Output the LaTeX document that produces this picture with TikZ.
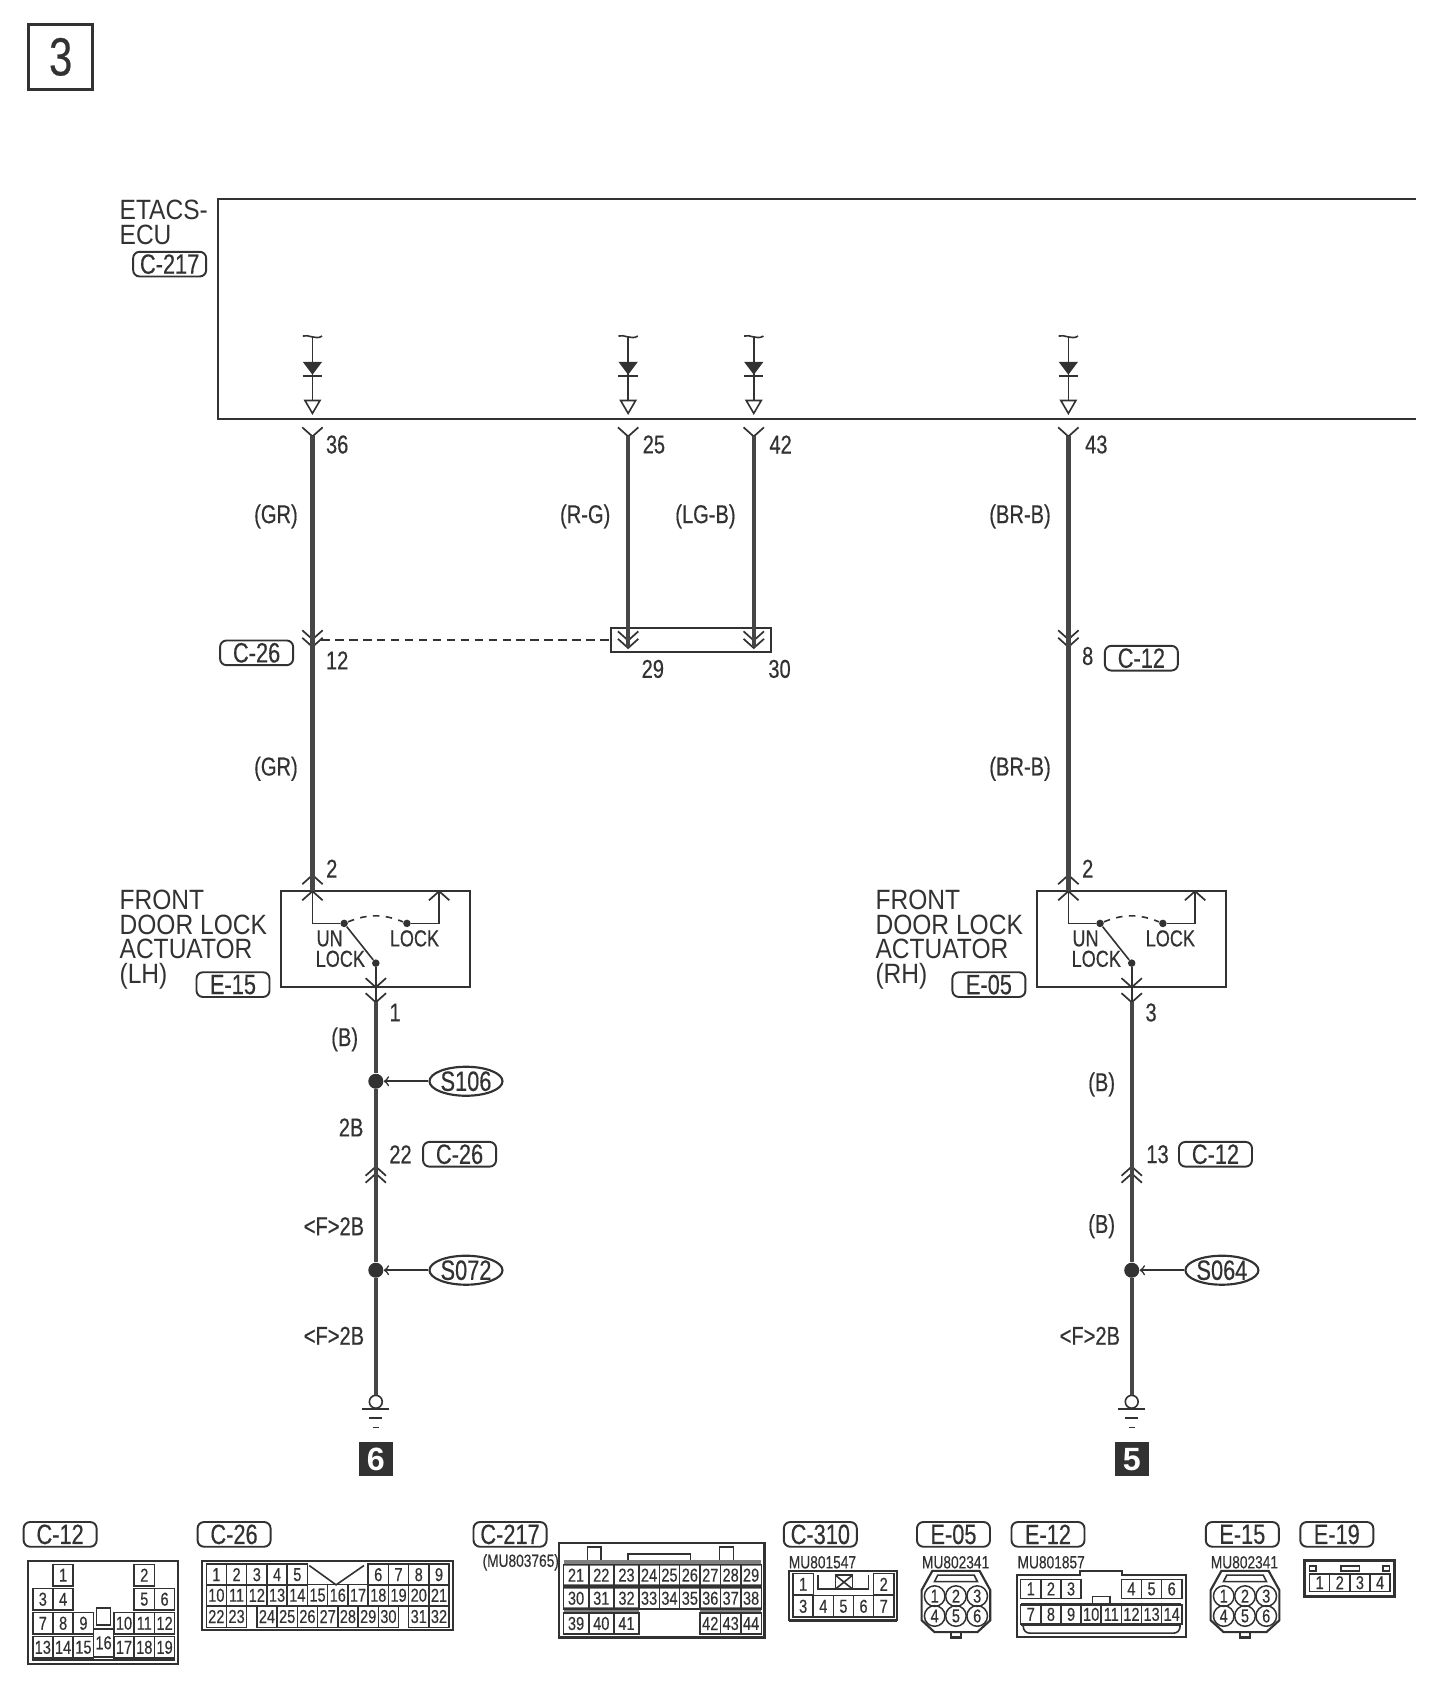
\documentclass[tikz,border=0pt]{standalone}
\usepackage{fontspec}
\setmainfont{Liberation Sans}
\newfontfamily\narrowfont[FakeStretch=0.78, FakeBold=0.4]{Liberation Sans}
\newfontfamily\labelfont[FakeStretch=0.88]{Liberation Sans}
\usetikzlibrary{shapes.geometric, positioning}
\definecolor{inkgray}{RGB}{50,50,50}
\definecolor{wiregray}{RGB}{70,70,70}

\begin{document}
\begin{tikzpicture}[
    x=0.5pt, y=-0.5pt,
    every node/.style={text=inkgray},
    wire/.style={draw=wiregray, line width=2pt},
    thinwire/.style={draw=inkgray, line width=0.75pt},
    chev/.style={draw=inkgray, line width=0.8pt},
    outline/.style={draw=inkgray, line width=1pt},
    tag/.style={rectangle, draw=inkgray, line width=0.9pt, rounded corners=3pt, minimum width=34pt, minimum height=11.5pt, inner sep=0pt, font=\narrowfont\fontsize{13}{13}\selectfont},
    wirelabel/.style={inner sep=0pt, font=\narrowfont\fontsize{12}{12}\selectfont},
    namelabel/.style={inner sep=0pt, anchor=west, align=left, font=\labelfont\fontsize{13}{11.5}\selectfont},
    pinbox/.style={rectangle, draw=inkgray, line width=0.7pt, minimum width=9.4pt, minimum height=10pt, inner sep=0pt, font=\narrowfont\fontsize{8.7}{9}\selectfont},
    pinround/.style={circle, draw=inkgray, line width=0.7pt, minimum size=9.6pt, inner sep=0pt, font=\narrowfont\fontsize{8.7}{9}\selectfont},
    partno/.style={inner sep=0pt, font=\narrowfont\fontsize{8.2}{8}\selectfont},
    splice/.style={circle, fill=inkgray, minimum size=7pt, inner sep=0pt},
    contact/.style={circle, fill=inkgray, minimum size=3.5pt, inner sep=0pt},
    spliceid/.style={ellipse, draw=inkgray, line width=1pt, minimum width=34pt, minimum height=13.5pt, inner sep=0pt, font=\narrowfont\fontsize{13}{13}\selectfont},
    badge/.style={rectangle, fill=inkgray, minimum size=16pt, inner sep=0pt, text=white, font=\bfseries\fontsize{15}{15}\selectfont}
]
    \useasboundingbox (0,0) rectangle (1356,1566.5);

    % Sheet number
    \node[rectangle, outline, line width=1.4pt, minimum size=30pt, inner sep=0pt, font=\narrowfont\fontsize{25}{25}\selectfont] (sheet) at (56.5,53) {3};

    % ECU box, open to the right
    \draw[outline] (1319,185) -- (203,185) -- (203,390) -- (1319,390);
    \node[namelabel] (ecuname) at (111,207) {ETACS-\\ECU};
    \node[tag] (ecutag) at (158,246) {C-217};

    % Output stages inside the ECU
    \foreach \sname/\sx in {p36/291, p25/585, p42/702, p43/995} {
        \coordinate (\sname-top) at (\sx,313);
        \coordinate (\sname-tri) at (\sx,373);
        \coordinate (\sname-y) at (\sx,406);
        \draw[thinwire] (\sname-top) -- (\sname-tri);
        \draw[thinwire] (\sx-9,313) .. controls (\sx-4,311) and (\sx+3,317) .. (\sx+9,313);
        \fill[inkgray] (\sx-9,337) -- (\sx+9,337) -- (\sx,349) -- cycle;
        \draw[thinwire] (\sx-9,350) -- (\sx+9,350);
        \draw[thinwire, fill=white] (\sx-7,373) -- (\sx+7,373) -- (\sx,385) -- cycle;
    }

    % Connector chevrons
    \foreach \cx/\cy in {291/398, 585/398, 702/398, 995/398, 291/587, 291/594, 995/587, 995/594, 585/588, 585/595, 702/588, 702/595, 350/911, 350/925, 1054/911, 1054/925}
        \draw[chev] (\cx-9.5,\cy) -- (\cx,\cy+8.5) -- (\cx+9.5,\cy);
    \foreach \cx/\cy in {291/815, 291/830, 409/830, 995/815, 995/830, 1113/830, 350/1086.5, 350/1093, 1054/1086.5, 1054/1093}
        \draw[chev] (\cx-9.5,\cy+8.5) -- (\cx,\cy) -- (\cx+9.5,\cy+8.5);

    % Door lock actuators
    \foreach \aname/\ax/\anum/\atag/\aside in {lh/0/1/E-15/LH, rh/704/3/E-05/RH} {
        \begin{scope}[shift={(\ax,0)}]
            \node[rectangle, outline, minimum width=88pt, minimum height=44.5pt, inner sep=0pt] (act\aname) at (350,874.5) {};
            \coordinate (up\aname) at (291,830);
            \coordinate (lk\aname) at (409,830);
            \coordinate (dn\aname) at (350,933);
            \node[contact] (cu\aname) at (320.5,860) {};
            \node[contact] (cl\aname) at (379,860) {};
            \node[contact] (cm\aname) at (350,897) {};
            \draw[thinwire] (up\aname) |- (cu\aname);
            \draw[thinwire] (cl\aname) -| (lk\aname);
            \draw[thinwire] (cu\aname) -- (cm\aname);
            \draw[thinwire] (cm\aname) -- (dn\aname);
            \draw[thinwire, dashed] (cu\aname) to[bend left=22] (cl\aname);
            \node[wirelabel, font=\narrowfont\fontsize{10.8}{10.8}\selectfont] (un\aname) at (307,874) {UN};
            \node[wirelabel, font=\narrowfont\fontsize{10.8}{10.8}\selectfont] (ul\aname) at (317,893) {LOCK};
            \node[wirelabel, font=\narrowfont\fontsize{10.8}{10.8}\selectfont] (ll\aname) at (386,874) {LOCK};
            \node[namelabel] (nm\aname) at (111,875) {FRONT\\DOOR LOCK\\ACTUATOR\\(\aside)};
            \node[tag] (tg\aname) at (217,917) {\atag};
            \node[wirelabel] (t2\aname) at (309,809) {2};
            \node[wirelabel] (tn\aname) at (368,943) {\anum};
        \end{scope}
    }

    % Wiring from ECU to actuators
    \node[rectangle, thinwire, line width=1pt, minimum width=74.5pt, minimum height=11pt, inner sep=0pt] (shortbox) at (643.5,596) {};
    \coordinate (end29) at (585,603);
    \coordinate (end30) at (702,603);
    \coordinate (c26mid) at (299,596);
    \draw[wire] (p36-y) -- (uplh);
    \draw[wire] (p25-y) -- (end29);
    \draw[wire] (p42-y) -- (end30);
    \draw[wire] (p43-y) -- (uprh);
    \draw[thinwire, dash pattern=on 4pt off 2.5pt] (c26mid) -- (shortbox.west);

    % Ground runs
    \node[splice] (spl106) at (350,1007) {};
    \node[splice] (spl072) at (350,1183) {};
    \node[splice] (spl064) at (1054,1183) {};
    \node[spliceid] (s106) at (434,1007) {S106};
    \node[spliceid] (s072) at (434,1183) {S072};
    \node[spliceid] (s064) at (1138,1183) {S064};
    \draw[thinwire, ->] (s106) -- (spl106);
    \draw[thinwire, ->] (s072) -- (spl072);
    \draw[thinwire, ->] (s064) -- (spl064);
    \foreach \gname/\gx/\gval in {lh/350/6, rh/1054/5} {
        \node[circle, thinwire, minimum size=6pt, inner sep=0pt] (gnd\gname) at (\gx,1305.5) {};
        \draw[thinwire] (\gx-12.5,1312) -- (\gx+12.5,1312);
        \draw[thinwire] (\gx-6,1320.5) -- (\gx+6,1320.5);
        \draw[thinwire] (\gx-3,1329.5) -- (\gx+3,1329.5);
        \node[badge] (bd\gname) at (\gx,1359) {\gval};
    }
    \draw[wire] (dnlh) -- (spl106) -- (spl072) -- (gndlh);
    \draw[wire] (dnrh) -- (spl064) -- (gndrh);

    % Wire colours and terminal numbers
    \foreach \txt/\lx/\ly [count=\n] in {36/314/414, 25/609/414, 42/727/414, 43/1021/414, {(GR)}/257/481, {(R-G)}/545/481, {(LG-B)}/657/481, {(BR-B)}/950/481, 12/314/615, 29/608/623, 30/726/623, 8/1013/611, {(GR)}/257/716, {(BR-B)}/950/716, {(B)}/321/968, 2B/327/1050, 22/373/1075, {<F>2B}/311/1142, {<F>2B}/311/1244, {(B)}/1026/1010, 13/1078/1075, {(B)}/1026/1142, {<F>2B}/1015/1244}
        \node[wirelabel] (wl\n) at (\lx,\ly) {\txt};
    \node[tag] (c26a) at (239,608) {C-26};
    \node[tag] (c12a) at (1063,613) {C-12};
    \node[tag] (c26b) at (428,1075) {C-26};
    \node[tag] (c12b) at (1132,1075) {C-12};

    % Connector faces: name tags
    \foreach \tagtxt/\tx in {C-12/56, C-26/218, C-217/475, C-310/764, E-05/888, E-12/976, E-15/1157, E-19/1245}
        \node[tag] (face\tagtxt) at (\tx,1429) {\tagtxt};
    \foreach \parttxt/\tx [count=\n] in {(MU803765)/485, MU801547/766, MU802341/890, MU801857/979, MU802341/1159}
        \node[partno] (part\n) at (\tx,1455) {\parttxt};

    % C-12 face
    \draw[outline] (26,1453.5) rectangle (165.5,1550);
    \draw[thinwire] (30,1546) -- (163,1546);
    \foreach \num/\col/\row in {1/1/0, 2/5/0, 3/0/1, 4/1/1, 5/5/1, 6/6/1, 7/0/2, 8/1/2, 9/2/2, 10/4/2, 11/5/2, 12/6/2, 13/0/3, 14/1/3, 15/2/3, 17/4/3, 18/5/3, 19/6/3}
        \node[pinbox] (cxii-\num) at ({39.9+\col*18.9},{1467+\row*22.4}) {\num};
    \node[rectangle, thinwire, minimum width=6.5pt, minimum height=7.8pt, inner sep=0pt] (cxii-key) at (96.5,1505.5) {};
    \node[pinbox, minimum height=13pt] (cxii-16) at (96.5,1530) {16};

    % C-26 face
    \draw[outline] (188.5,1453.5) rectangle (421.5,1518);
    \foreach \num/\col in {1/0, 2/1, 3/2, 4/3, 5/4, 6/8, 7/9, 8/10, 9/11}
        \node[pinbox] (cxxvi-\num) at ({201.5+\col*18.85},1466.5) {\num};
    \foreach \num [count=\col from 0] in {10,...,21}
        \node[pinbox] (cxxvi-\num) at ({201.5+\col*18.85},1485.7) {\num};
    \foreach \num/\col in {22/0, 23/1, 24/2.5, 25/3.5, 26/4.5, 27/5.5, 28/6.5, 29/7.5, 30/8.5, 31/10, 32/11}
        \node[pinbox] (cxxvi-\num) at ({201.5+\col*18.85},1505.5) {\num};
    \draw[thinwire] (288,1458) -- (313,1476) -- (339,1458);

    % C-217 face
    \draw[outline] (520.5,1437) rectangle (712,1525);
    \draw[thinwire] (547,1453) |- (560,1440.5) -- (560,1453);
    \draw[thinwire] (670,1453) |- (683,1440.5) -- (683,1453);
    \draw[thinwire] (585,1453) |- (643,1447.5) -- (643,1453);
    \fill[gray] (525,1453) rectangle (709,1458.5);
    \fill[gray] (525,1475.5) rectangle (709,1480);
    \fill[gray] (525,1497) rectangle (595,1502.5);
    \fill[gray] (652,1497) rectangle (709,1502.5);
    \foreach \num/\cx/\cy/\cw in {21/536.5/1467/11.6, 22/560/1467/11.6, 23/583.5/1467/11.6, 24/604.5/1467/9.5, 25/623.5/1467/9.5, 26/642.5/1467/9.5, 27/661.5/1467/9.5, 28/680.5/1467/9.5, 29/699.5/1467/9.5,
        30/536.5/1488.5/11.6, 31/560/1488.5/11.6, 32/583.5/1488.5/11.6, 33/604.5/1488.5/9.5, 34/623.5/1488.5/9.5, 35/642.5/1488.5/9.5, 36/661.5/1488.5/9.5, 37/680.5/1488.5/9.5, 38/699.5/1488.5/9.5,
        39/536.5/1512/11.6, 40/560/1512/11.6, 41/583.5/1512/11.6, 42/661.5/1512/9.5, 43/680.5/1512/9.5, 44/699.5/1512/9.5}
        \node[pinbox, minimum width=\cw pt] (ccxvii-\num) at (\cx,\cy) {\num};

    % C-310 face
    \draw[outline] (735,1463) rectangle (835.5,1509);
    \draw[outline, line width=1.6pt] (735,1509) -- (835.5,1509);
    \node[pinbox] (ccx-1) at (748,1475.5) {1};
    \node[pinbox] (ccx-2) at (823,1475.5) {2};
    \foreach \num [count=\col from 0] in {3,...,7}
        \node[pinbox] (ccx-\num) at ({748+\col*18.75},1496) {\num};
    \draw[thinwire] (762,1467) |- (809,1480) -- (809,1467);
    \draw[thinwire] (778,1467) rectangle (794,1480);
    \draw[thinwire] (778,1467) -- (794,1480) (794,1467) -- (778,1480);

    % E-05 and E-15 faces
    \foreach \fname/\fx in {efive/890.3, efift/1159.5} {
        \begin{scope}[shift={(\fx,0)}]
            \draw[outline] (-22,1463) -- (22,1463) -- (32,1481) -- (32,1509) -- (20,1520) -- (-20,1520) -- (-32,1509) -- (-32,1481) -- cycle;
            \draw[thinwire] (-20,1473) -- (-17,1467) -- (17,1467) -- (20,1473) -- cycle;
            \draw[outline] (-4.5,1520) rectangle (4.5,1525);
            \foreach \num/\cx/\cy in {1/-19.8/1486.5, 2/0/1486.5, 3/19.8/1486.5, 4/-19.8/1505, 5/0/1505, 6/19.8/1505}
                \node[pinround] (\fname-\num) at (\cx,\cy) {\num};
        \end{scope}
    }

    % E-12 face
    \draw[outline] (947,1467) -| (1006,1463) -| (1045,1467) -| (1104.5,1524.5) -| cycle;
    \foreach \num/\col in {1/0, 2/1, 3/2, 4/5, 5/6, 6/7}
        \node[pinbox, minimum height=9pt] (eii-\num) at ({960+\col*18.75},1479.8) {\num};
    \foreach \num [count=\col from 0] in {7,...,14}
        \node[pinbox, minimum height=9pt] (eii-\num) at ({960+\col*18.75},1503.5) {\num};
    \node[rectangle, thinwire, minimum width=8pt, minimum height=4pt, inner sep=0pt] (eii-key) at (1025.5,1491) {};
    \draw[outline, line width=1.3pt] (951,1494) -- (1100,1494);
    \draw[outline, line width=1.3pt] (951,1513) -- (1100,1513);
    \draw[thinwire, rounded corners=3pt] (953,1514) -- (953,1521) -- (1099,1521) -- (1099,1514);

    % E-19 face
    \draw[outline, line width=1.3pt] (1215,1453.5) rectangle (1298.5,1487);
    \foreach \num [count=\col from 0] in {1,...,4}
        \node[pinbox, minimum height=8pt] (eix-\num) at ({1229+\col*18.75},1474) {\num};
    \draw[thinwire] (1219.5,1458.5) rectangle (1225.5,1463);
    \draw[thinwire] (1249,1458.5) rectangle (1266,1463);
    \draw[thinwire] (1288,1458.5) rectangle (1294,1463);
\end{tikzpicture}
\end{document}
